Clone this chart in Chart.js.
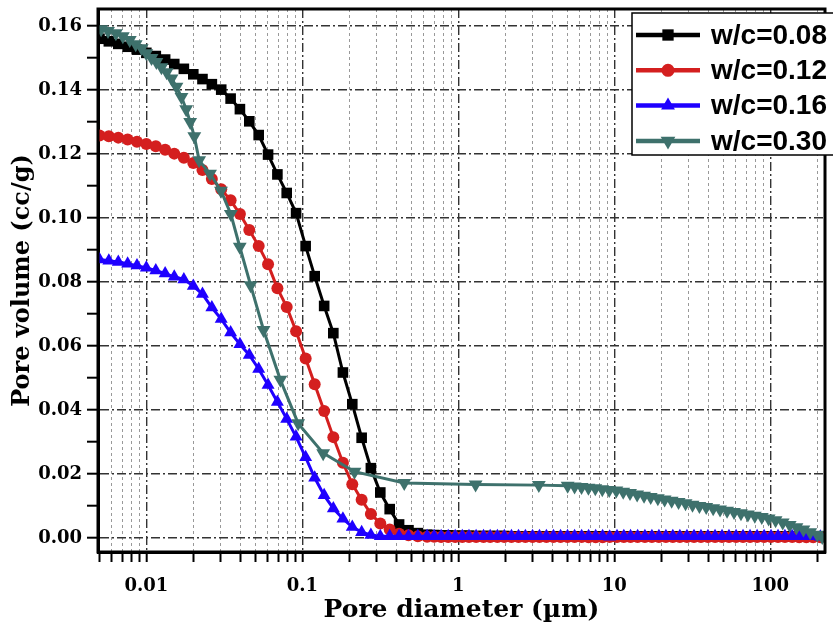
<!DOCTYPE html>
<html>
<head>
<meta charset="utf-8">
<script src="https://cdn.jsdelivr.net/npm/chart.js@4.4.1/dist/chart.umd.min.js"></script>
<style>
  html, body { margin: 0; padding: 0; background: #fff; }
  canvas { display: block; }
</style>
</head>
<body>
<canvas id="myChart" width="833" height="625"></canvas>
<script>
// series names
const seriesNames = ['w/c=0.08', 'w/c=0.12', 'w/c=0.16', 'w/c=0.30'];

// pore diameter (µm) shared by w/c 0.08, 0.12, 0.16
const diameter = [0.00501, 0.00575, 0.00661, 0.00759, 0.00871, 0.0100, 0.0115, 0.0132, 0.0151, 0.0174,
  0.0200, 0.0229, 0.0263, 0.0302, 0.0347, 0.0398, 0.0457, 0.0525, 0.0603, 0.0692,
  0.0794, 0.0912, 0.105, 0.120, 0.138, 0.158, 0.182, 0.209, 0.240, 0.275,
  0.316, 0.363, 0.417, 0.479, 0.550,
  0.631, 0.700, 0.776, 0.861, 0.955, 1.06, 1.17, 1.30, 1.45, 1.60,
  1.78, 1.97, 2.19, 2.43, 2.69, 2.99, 3.31, 3.67, 4.07, 4.52,
  5.01, 5.56, 6.17, 6.84, 7.59, 8.41, 9.33, 10.4, 11.5, 12.7,
  14.1, 15.7, 17.4, 19.3, 21.4, 23.7, 26.3, 29.2, 32.4, 35.9,
  39.8, 44.2, 49.0, 54.3, 60.3, 66.8, 74.1, 82.2, 91.2, 101,
  112, 124, 138, 153, 170, 188, 209];

// pore volume (cc/g)
const vol008 = [0.1560, 0.1552, 0.1544, 0.1535, 0.1526, 0.1516, 0.1506, 0.1495, 0.1481, 0.1466,
  0.1449, 0.1434, 0.1418, 0.1401, 0.1373, 0.1340, 0.1302, 0.1259, 0.1198, 0.1136,
  0.1078, 0.1015, 0.0912, 0.0818, 0.0725, 0.0640, 0.0517, 0.0418, 0.0313, 0.0218,
  0.0142, 0.0090, 0.0042, 0.0024, 0.0015,
  0.0010, 0.0009, 0.0008, 0.0008, 0.0007, 0.0007, 0.0007, 0.0006, 0.0006, 0.0006,
  0.0006, 0.0006, 0.0005, 0.0005, 0.0005, 0.0005, 0.0005, 0.0005, 0.0005, 0.0005,
  0.0005, 0.0005, 0.0005, 0.0005, 0.0005, 0.0005, 0.0005, 0.0005, 0.0005, 0.0005,
  0.0005, 0.0005, 0.0005, 0.0005, 0.0005, 0.0005, 0.0005, 0.0005, 0.0005, 0.0005,
  0.0005, 0.0005, 0.0005, 0.0005, 0.0005, 0.0005, 0.0005, 0.0005, 0.0005, 0.0005,
  0.0005, 0.0005, 0.0005, 0.0005, 0.0005, 0.0005, 0.0005];

const vol012 = [0.1258, 0.1255, 0.1251, 0.1245, 0.1238, 0.1231, 0.1224, 0.1213, 0.1201, 0.1188,
  0.1172, 0.1150, 0.1122, 0.1090, 0.1055, 0.1012, 0.0962, 0.0912, 0.0855, 0.0780,
  0.0722, 0.0646, 0.0561, 0.0480, 0.0397, 0.0315, 0.0235, 0.0168, 0.0119, 0.0075,
  0.0045, 0.0026, 0.0013, 0.0008, 0.0005,
  0.0004, 0.0004, 0.0003, 0.0003, 0.0003, 0.0003, 0.0003, 0.0003, 0.0003, 0.0003,
  0.0003, 0.0003, 0.0003, 0.0003, 0.0003, 0.0003, 0.0003, 0.0003, 0.0003, 0.0003,
  0.0003, 0.0003, 0.0003, 0.0002, 0.0002, 0.0002, 0.0003, 0.0003, 0.0003, 0.0003,
  0.0003, 0.0003, 0.0003, 0.0003, 0.0003, 0.0003, 0.0003, 0.0003, 0.0003, 0.0003,
  0.0003, 0.0003, 0.0003, 0.0003, 0.0003, 0.0003, 0.0003, 0.0003, 0.0003, 0.0003,
  0.0003, 0.0003, 0.0003, 0.0002, 0.0002, 0.0002, 0.0002];

const vol016 = [0.0870, 0.0866, 0.0862, 0.0857, 0.0851, 0.0844, 0.0836, 0.0826, 0.0816, 0.0808,
  0.0787, 0.0762, 0.0720, 0.0684, 0.0642, 0.0605, 0.0572, 0.0528, 0.0478, 0.0425,
  0.0372, 0.0316, 0.0252, 0.0188, 0.0133, 0.0092, 0.0060, 0.0034, 0.0018, 0.0009,
  0.0005, 0.0005, 0.0005, 0.0005, 0.0005,
  0.0005, 0.0005, 0.0005, 0.0005, 0.0005, 0.0005, 0.0005, 0.0005, 0.0005, 0.0005,
  0.0005, 0.0005, 0.0005, 0.0005, 0.0005, 0.0005, 0.0005, 0.0005, 0.0005, 0.0005,
  0.0005, 0.0005, 0.0005, 0.0005, 0.0005, 0.0005, 0.0004, 0.0005, 0.0005, 0.0005,
  0.0005, 0.0005, 0.0005, 0.0005, 0.0005, 0.0005, 0.0005, 0.0005, 0.0005, 0.0005,
  0.0005, 0.0005, 0.0005, 0.0005, 0.0005, 0.0005, 0.0005, 0.0005, 0.0005, 0.0005,
  0.0005, 0.0005, 0.0005, 0.0005, 0.0005, 0.0005, 0.0004];

// w/c 0.30 has its own measured diameters
const diameter030 = [0.00513, 0.00568, 0.00638, 0.00707, 0.00783, 0.00855, 0.00934, 0.0100, 0.0108, 0.0116,
  0.0125, 0.0135, 0.0145, 0.0156, 0.0168, 0.0180, 0.0191, 0.0203, 0.0218, 0.0256,
  0.0301, 0.0348, 0.0397, 0.0466, 0.0564, 0.0723, 0.0940, 0.136, 0.216, 0.450,
  1.29, 3.28, 5.02, 5.56, 6.16, 6.82, 7.55, 8.37, 9.27, 10.3,
  11.4, 12.6, 14.0, 15.5, 17.1, 19.0, 21.0, 23.3, 25.8, 28.6,
  31.7, 35.1, 38.8, 43.0, 47.6, 52.8, 58.5, 64.8, 71.8, 79.5,
  88.1, 97.5, 108, 120, 133, 147, 163, 180, 200, 215];

const vol030 = [0.1590, 0.1584, 0.1577, 0.1568, 0.1556, 0.1543, 0.1530, 0.1515, 0.1500, 0.1487,
  0.1471, 0.1455, 0.1436, 0.1410, 0.1378, 0.1340, 0.1300, 0.1255, 0.1180, 0.1138,
  0.1085, 0.1012, 0.0910, 0.0790, 0.0650, 0.0494, 0.0358, 0.0265, 0.0207, 0.0172,
  0.0167, 0.0165, 0.0163, 0.0161, 0.0159, 0.0157, 0.0155, 0.0152, 0.0150, 0.0148,
  0.0144, 0.0140, 0.0136, 0.0132, 0.0128, 0.0124, 0.0120, 0.0116, 0.0112, 0.0108,
  0.0104, 0.0100, 0.0097, 0.0093, 0.0089, 0.0085, 0.0081, 0.0077, 0.0073, 0.0069,
  0.0065, 0.0061, 0.0055, 0.0048, 0.0040, 0.0033, 0.0026, 0.0018, 0.0010, 0.0003];

// axis ticks
const xTicks = [0.005, 0.006, 0.007, 0.008, 0.009,
  0.01, 0.02, 0.03, 0.04, 0.05, 0.06, 0.07, 0.08, 0.09,
  0.1, 0.2, 0.3, 0.4, 0.5, 0.6, 0.7, 0.8, 0.9,
  1, 2, 3, 4, 5, 6, 7, 8, 9,
  10, 20, 30, 40, 50, 60, 70, 80, 90,
  100, 200];
const xLabelTicks = [0.01, 0.1, 1, 10, 100];
const yTicks = [0, 0.01, 0.02, 0.03, 0.04, 0.05, 0.06, 0.07, 0.08, 0.09,
  0.10, 0.11, 0.12, 0.13, 0.14, 0.15, 0.16];
const yLabelTicks = [0, 0.02, 0.04, 0.06, 0.08, 0.10, 0.12, 0.14, 0.16];

const colors = ['#000000', '#d41f1f', '#1f00ff', '#3e716c'];
const shapes = ['rect', 'circle', 'triangle', 'triangle'];

const toPts = (xs, ys) => xs.map((x, i) => ({x: x, y: ys[i]}));

const isXMajor = c => c.tick && xLabelTicks.includes(c.tick.value);
const isYMajor = c => c.tick && yLabelTicks.some(v => Math.abs(v - c.tick.value) < 1e-9);

// frame on top/right
const framePlugin = {
  id: 'frame',
  afterDatasetsDraw(chart) {
    const {ctx, chartArea: a} = chart;
    ctx.save();
    ctx.strokeStyle = '#000';
    ctx.lineWidth = 3;
    ctx.strokeRect(a.left, a.top, a.right - a.left, a.bottom - a.top);
    ctx.restore();
  }
};

function marker(ctx, shape, rot, x, y, r) {
  ctx.beginPath();
  if (shape === 'rect') {
    const s = r * Math.SQRT1_2;
    ctx.rect(x - s, y - s, 2 * s, 2 * s);
  } else if (shape === 'circle') {
    ctx.arc(x, y, r, 0, Math.PI * 2);
  } else {
    const d = rot ? -1 : 1;
    ctx.moveTo(x, y - d * r);
    ctx.lineTo(x + r * 0.866, y + d * r * 0.5);
    ctx.lineTo(x - r * 0.866, y + d * r * 0.5);
    ctx.closePath();
  }
  ctx.fill();
}

// legend box inside the plot area
const legendPlugin = {
  id: 'boxLegend',
  afterDraw(chart) {
    const ctx = chart.ctx;
    ctx.save();
    ctx.fillStyle = '#fff';
    ctx.fillRect(632, 13, 210, 142);
    ctx.strokeStyle = '#000';
    ctx.lineWidth = 1.5;
    ctx.strokeRect(632, 13, 210, 142);
    chart.data.datasets.forEach((ds, i) => {
      const y = 35 + i * 35.3;
      ctx.strokeStyle = ds.borderColor;
      ctx.lineWidth = 4.5;
      ctx.beginPath();
      ctx.moveTo(636, y);
      ctx.lineTo(700, y);
      ctx.stroke();
      ctx.fillStyle = ds.borderColor;
      marker(ctx, ds.pointStyle, ds.pointRotation, 668, y, ds.pointRadius + 0.5);
      ctx.fillStyle = '#000';
      ctx.font = 'bold 28px "Liberation Sans", Arial, sans-serif';
      ctx.textBaseline = 'middle';
      ctx.textAlign = 'left';
      ctx.fillText(ds.label, 711, y + 1);
    });
    ctx.restore();
  }
};

const serif = '"DejaVu Serif", serif';

new Chart(document.getElementById('myChart'), {
  type: 'line',
  data: {
    datasets: [
      {label: seriesNames[0], data: toPts(diameter, vol008), order: 4, pointRadius: 7.5},
      {label: seriesNames[1], data: toPts(diameter, vol012), order: 3, pointRadius: 6},
      {label: seriesNames[2], data: toPts(diameter, vol016), order: 2, pointRadius: 7.5},
      {label: seriesNames[3], data: toPts(diameter030, vol030), order: 1, pointRadius: 8, pointRotation: 180}
    ].map((ds, i) => Object.assign({
      borderColor: colors[i],
      backgroundColor: colors[i],
      pointBackgroundColor: colors[i],
      pointBorderWidth: 0,
      pointStyle: shapes[i],
      borderWidth: 3,
      tension: 0
    }, ds))
  },
  options: {
    responsive: false,
    animation: false,
    events: [],
    layout: {padding: {top: 9, right: 1, left: 0, bottom: 0}},
    plugins: {legend: {display: false}, tooltip: {enabled: false}},
    scales: {
      x: {
        type: 'logarithmic',
        min: 0.0049,
        max: 224,
        afterBuildTicks: s => { s.ticks = xTicks.map(v => ({value: v})); },
        afterFit: s => { s.height = 73; s.paddingLeft = 0; s.paddingRight = 0; },
        ticks: {
          autoSkip: false,
          maxRotation: 0,
          padding: 14,
          color: '#000',
          font: {family: serif, weight: 'bold', size: 18},
          callback: v => xLabelTicks.includes(v) ? String(v) : ''
        },
        grid: {
          color: c => isXMajor(c) ? '#333' : '#999',
          lineWidth: c => isXMajor(c) ? 1.4 : 1,
          tickColor: '#000',
          tickWidth: 2,
          tickLength: 10
        },
        border: {
          display: true,
          color: '#000',
          width: 3,
          dash: c => c.tick ? (isXMajor(c) ? [9, 3, 2, 3] : [3, 3]) : []
        },
        title: {
          display: true,
          text: 'Pore diameter (µm)',
          color: '#000',
          font: {family: serif, weight: 'bold', size: 25},
          padding: {top: 4, bottom: 0}
        }
      },
      y: {
        min: -0.0044,
        max: 0.1653,
        afterBuildTicks: s => { s.ticks = yTicks.map(v => ({value: v})); },
        afterFit: s => { s.width = 98; s.paddingTop = 0; s.paddingBottom = 0; },
        ticks: {
          padding: 5,
          color: '#000',
          font: {family: serif, weight: 'bold', size: 18},
          callback: v => yLabelTicks.some(t => Math.abs(t - v) < 1e-9) ? v.toFixed(2) : ''
        },
        grid: {
          color: c => isYMajor(c) ? '#333' : 'rgba(0,0,0,0)',
          lineWidth: 1.4,
          tickColor: '#000',
          tickWidth: 2,
          tickLength: 11
        },
        border: {
          display: true,
          color: '#000',
          width: 3,
          dash: c => c.tick ? [9, 3, 2, 3] : []
        },
        title: {
          display: true,
          text: 'Pore volume (cc/g)',
          color: '#000',
          font: {family: serif, weight: 'bold', size: 24},
          padding: {top: 8, bottom: 0}
        }
      }
    }
  },
  plugins: [framePlugin, legendPlugin]
});
</script>
</body>
</html>
